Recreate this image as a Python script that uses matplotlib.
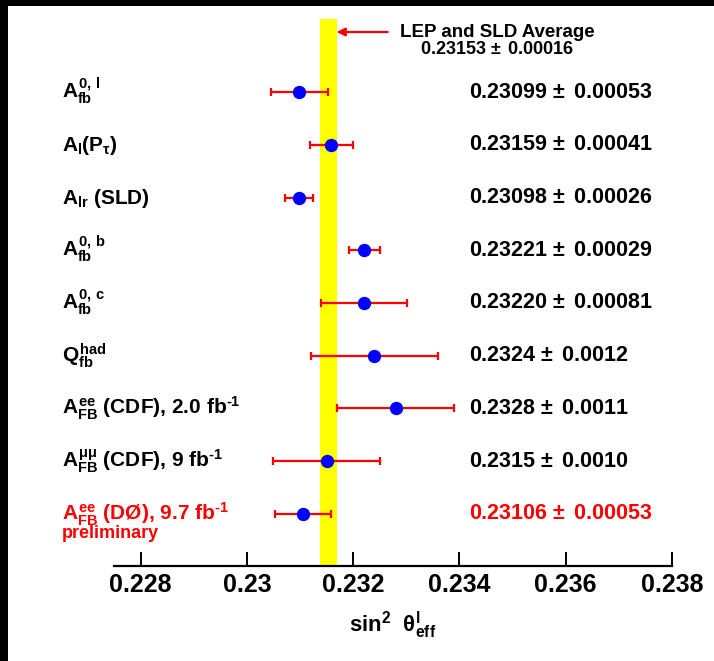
import matplotlib
matplotlib.use("Agg")
import matplotlib.pyplot as plt
import matplotlib.transforms as mtransforms
from matplotlib.patches import Rectangle

plt.rcParams['font.family'] = ['Liberation Sans', 'DejaVu Sans']
plt.rcParams['font.weight'] = 'bold'
plt.rcParams['mathtext.fontset'] = 'custom'
plt.rcParams['mathtext.rm'] = 'Liberation Sans'
plt.rcParams['mathtext.it'] = 'Liberation Sans:bold'
plt.rcParams['mathtext.bf'] = 'Liberation Sans:bold'
plt.rcParams['mathtext.sf'] = 'Liberation Sans'

# Measurements of sin^2 theta_eff (lepton), top to bottom
labels = [
    r"$A^{0,\,l}_{fb}$",
    r"$A_{l}(P_{\mathrm{\tau}})$",
    r"$A_{lr}$ (SLD)",
    r"$A^{0,\,b}_{fb}$",
    r"$A^{0,\,c}_{fb}$",
    r"$Q^{had}_{fb}$",
    r"$A^{ee}_{FB}$ (CDF), 2.0 fb$^{\text{-}1}$",
    r"$A^{\mathrm{\mu\mu}}_{FB}$ (CDF), 9 fb$^{\text{-}1}$",
    r"$A^{ee}_{FB}$ (DØ), 9.7 fb$^{\text{-}1}$",
]
value_str = ["0.23099", "0.23159", "0.23098", "0.23221", "0.23220",
             "0.2324", "0.2328", "0.2315", "0.23106"]
error_str = ["0.00053", "0.00041", "0.00026", "0.00029", "0.00081",
             "0.0012", "0.0011", "0.0010", "0.00053"]
label_colors = ["black"] * 8 + ["red"]

avg_str = "0.23153"
avg_err_str = "0.00016"

xticks = [0.228, 0.230, 0.232, 0.234, 0.236, 0.238]
xtick_labels = ["0.228", "0.23", "0.232", "0.234", "0.236", "0.238"]

values = [float(s) for s in value_str]
errors = [float(s) for s in error_str]
avg = float(avg_str)
avg_err = float(avg_err_str)

n = len(values)
ypos = [n - i for i in range(n)]

W, H = 714, 661
fig = plt.figure(figsize=(W / 100, H / 100), dpi=100, facecolor="black")
fig.add_artist(Rectangle((8 / W, 0), 1 - 8 / W, (H - 6) / H,
                         transform=fig.transFigure, facecolor="white",
                         edgecolor="none", zorder=-10))

ax_l, ax_r = 114 / W, 672 / W
ax_b, ax_t = (H - 566) / H, (H - 19) / H
ax = fig.add_axes([ax_l, ax_b, ax_r - ax_l, ax_t - ax_b])
ax.set_facecolor("none")

ax.set_xlim(0.2275, 0.238)
ax.set_ylim(0.014, n + 1.384)

# world average band
ax.axvspan(avg - avg_err, avg + avg_err, color="#ffff00", zorder=1, lw=0)

ax.errorbar(values, ypos, xerr=errors, fmt="o", color="red",
            ecolor="red", elinewidth=1.6, capsize=2.6, capthick=1.6,
            markerfacecolor="blue", markeredgecolor="blue",
            markersize=8.6, zorder=3)

# labels on the left and numeric results on the right
tr_left = mtransforms.blended_transform_factory(ax.transAxes, ax.transData)
px = 1.0 / 52.75
pm = r" $\mathrm{\pm}\,$ "
for y, lab, v, e, c in zip(ypos, labels, value_str, error_str, label_colors):
    ax.text((62 - 114) / 558, y - 6 * px, lab, transform=tr_left,
            fontsize=15, fontweight="bold", color=c, va="baseline",
            ha="left")
    ax.text((469 - 114) / 558, y - 5.5 * px, v + pm + e,
            transform=tr_left, fontsize=15.5, fontweight="bold", color=c,
            va="baseline", ha="left")
ax.text((62 - 114) / 558, ypos[-1] - 24 * px, "preliminary",
        transform=tr_left, fontsize=13, fontweight="bold", color="red",
        va="baseline", ha="left")

# average annotation with arrow
ya = n + (92 - 32) * px
ax.annotate("", xy=(avg + avg_err, ya), xytext=(0.23265, ya),
            arrowprops=dict(arrowstyle="-|>", color="red", lw=1.6,
                            mutation_scale=12, shrinkA=0, shrinkB=0))
xc = 0.228 + (497 - 141) / 53.1 * 0.001
ax.text(xc, ya, "LEP and SLD Average", fontsize=13.5,
        fontweight="bold", ha="center", va="center")
ax.text(xc, ya - 17 * px, avg_str + pm + avg_err_str,
        fontsize=13, fontweight="bold", ha="center", va="center")

# axes styling
for s in ["left", "right", "top"]:
    ax.spines[s].set_visible(False)
ax.spines["bottom"].set_linewidth(1.6)
ax.spines["bottom"].set_zorder(4)
ax.set_yticks([])
ax.set_xticks(xticks)
ax.set_xticklabels(xtick_labels)
ax.tick_params(axis="x", direction="in", length=10, width=1.4,
               labelsize=18, pad=5)
for t in ax.get_xticklabels():
    t.set_fontweight("bold")

ax.set_xlabel(r"sin$^{2}$  $\mathrm{\theta}^{l}_{eff}$", fontsize=16,
              fontweight="bold", labelpad=9)

fig.savefig("out.png", dpi=100, facecolor="black")
